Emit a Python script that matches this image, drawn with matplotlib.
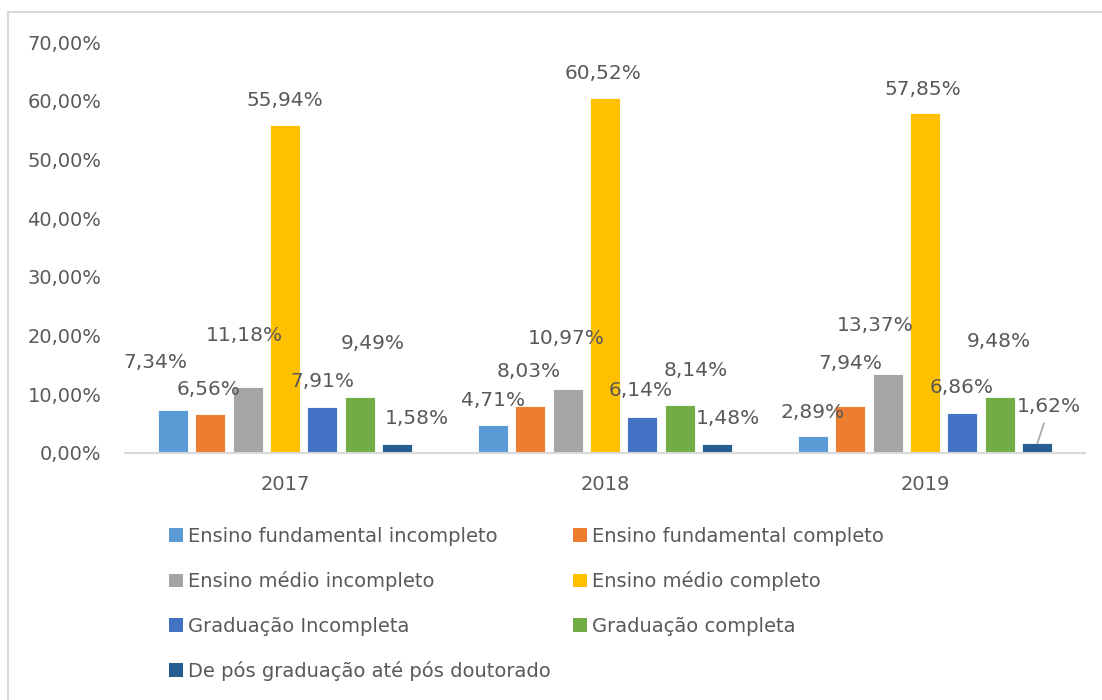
import numpy as np
import matplotlib.pyplot as plt
from matplotlib.patches import Rectangle, Patch
from matplotlib.ticker import FuncFormatter

# Dados (percentuais por nível de escolaridade e ano)
anos = ["2017", "2018", "2019"]
categorias = [
    "Ensino fundamental incompleto",
    "Ensino fundamental completo",
    "Ensino médio incompleto",
    "Ensino médio completo",
    "Graduação Incompleta",
    "Graduação completa",
    "De pós graduação até pós doutorado",
]
fund_incompleto = [7.34, 4.71, 2.89]
fund_completo = [6.56, 8.03, 7.94]
medio_incompleto = [11.18, 10.97, 13.37]
medio_completo = [55.94, 60.52, 57.85]
grad_incompleta = [7.91, 6.14, 6.86]
grad_completa = [9.49, 8.14, 9.48]
pos_graduacao = [1.58, 1.48, 1.62]
valores = [fund_incompleto, fund_completo, medio_incompleto, medio_completo,
           grad_incompleta, grad_completa, pos_graduacao]

cores = ["#5B9BD5", "#ED7D31", "#A5A5A5", "#FFC000", "#4472C4", "#70AD47", "#255E91"]

# deslocamento dos rótulos (pixels) como o Excel posicionou
desloc_rotulos = [
    [(-17, 47), (0, 25), (0, 24)],
    [(-2, 24.5), (-1, 34), (0, 43)],
    [(-3.5, 52), (-1, 50.5), (-12, 49)],
    [(0, 24), (-2, 24), (-2, 24)],
    [(0, 25.5), (-2, 26), (-1, 25)],
    [(12.5, 54), (16, 35), (-1, 56)],
    [(19.5, 25), (11, 26), (12, 36.5)],
]

cinza_texto = "#595959"

fig = plt.figure(figsize=(11.02, 7), dpi=100)
ax = fig.add_axes([125 / 1102, 1 - 453 / 700, 960 / 1102, 411 / 700])

x = np.arange(len(anos))
largura = 0.094
passo = 0.117

for i, (cat, vals, cor) in enumerate(zip(categorias, valores, cores)):
    pos = x + (i - 3) * passo
    ax.bar(pos, vals, width=largura, color=cor, edgecolor="white", linewidth=0.6, label=cat)
    for j, v in enumerate(vals):
        dx, dy = desloc_rotulos[i][j]
        txt = f"{v:.2f}".replace(".", ",") + "%"
        if i == 6 and j == 2:
            ax.annotate(txt, xy=(pos[j], v), xytext=(dx, dy), textcoords="offset pixels",
                        ha="center", va="center", fontsize=14.5, color=cinza_texto,
                        arrowprops=dict(arrowstyle="-", color="#a6a6a6", lw=1.2,
                                        shrinkA=3, shrinkB=0))
        else:
            ax.annotate(txt, xy=(pos[j], v), xytext=(dx, dy), textcoords="offset pixels",
                        ha="center", va="center", fontsize=14.5, color=cinza_texto)

ax.set_xlim(-0.5, 2.5)
ax.set_ylim(0, 70)
ax.set_yticks(np.arange(0, 71, 10))
ax.yaxis.set_major_formatter(FuncFormatter(lambda v, p: f"{v:.2f}".replace(".", ",") + "%"))
ax.set_xticks(x)
ax.set_xticklabels(anos)
ax.tick_params(axis="y", length=0, pad=17, labelsize=14, labelcolor=cinza_texto)
ax.tick_params(axis="x", length=0, pad=16, labelsize=14, labelcolor=cinza_texto)
for s in ["top", "right", "left"]:
    ax.spines[s].set_visible(False)
ax.spines["bottom"].set_color("#d9d9d9")
ax.spines["bottom"].set_linewidth(1.5)

# legenda em duas colunas, ordem por linha
handles = [Patch(facecolor=c) for c in cores]
col1 = [0, 2, 4, 6]
col2 = [1, 3, 5]
kw = dict(frameon=False, fontsize=14, handlelength=0.7, handleheight=0.7,
          handletextpad=0.3, labelspacing=1.3, borderpad=0, borderaxespad=0,
          labelcolor=cinza_texto, loc="upper left")
leg1 = fig.legend([handles[k] for k in col1], [categorias[k] for k in col1],
                  bbox_to_anchor=(169 / 1102, 1 - 527 / 700), **kw)
leg2 = fig.legend([handles[k] for k in col2], [categorias[k] for k in col2],
                  bbox_to_anchor=(573 / 1102, 1 - 527 / 700), **kw)

# borda da área do gráfico
fig.add_artist(Rectangle((8 / 1102, -0.05), 1.0, 1.033, transform=fig.transFigure,
                         fill=False, edgecolor="#d9d9d9", linewidth=1.5))

fig.savefig("out.png", dpi=100)
